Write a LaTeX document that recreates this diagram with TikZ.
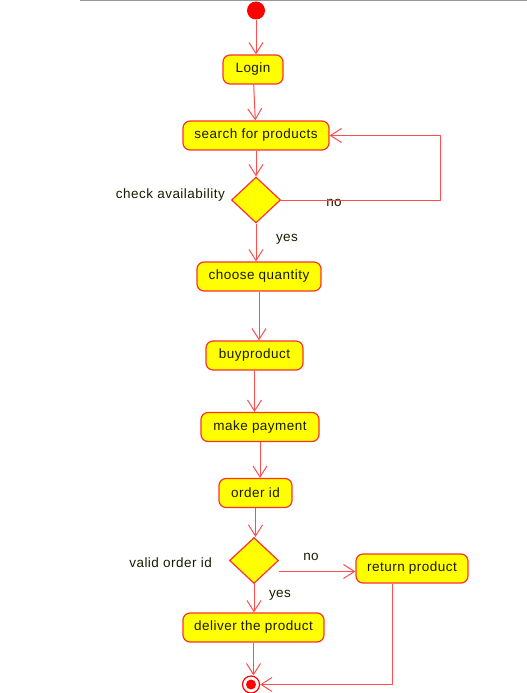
\documentclass[tikz,border=0pt]{standalone}
\usepackage{fontspec}
\setmainfont{Liberation Sans}[LetterSpace=3.5]
\usetikzlibrary{arrows.meta,shapes.geometric}
\definecolor{lred}{HTML}{FF4D4D}
\definecolor{bred}{HTML}{FF3030}
\definecolor{uyellow}{HTML}{FFFF00}
\definecolor{txt}{HTML}{1A1A00}
\begin{document}
\begin{tikzpicture}[x=1pt,y=-1pt,
 act/.style={draw=bred, line width=1.2pt, fill=uyellow, rounded corners=7pt, minimum height=29pt, inner xsep=0pt, font=\fontsize{13.5}{15}\selectfont, text=txt},
 dec/.style={draw=bred, line width=1.2pt, fill=uyellow, diamond, minimum width=49pt, minimum height=46pt, inner sep=0pt},
 flow/.style={draw=lred, line width=1pt, -{Straight Barb[length=11pt,width=14pt]}},
 lbl/.style={font=\fontsize{13.5}{15}\selectfont, text=txt, inner sep=1pt}
]
\useasboundingbox (0,0) rectangle (527,693);
\draw[gray!80, line width=1.5pt] (80,0.75) -- (527,0.75);

\node[circle, fill=red, minimum size=18pt, inner sep=0pt] (start) at (256,10.5) {};
\node[act, minimum width=60pt] (login) at (253,69.5) {Login};
\node[act, minimum width=146pt] (search) at (256,135.5) {search for products};
\node[dec] (d1) at (256,200) {};
\node[act, minimum width=124pt] (choose) at (259,276.5) {choose quantity};
\node[act, minimum width=97pt] (buy) at (254.5,355.5) {buyproduct};
\node[act, minimum width=118pt] (pay) at (260,427) {make payment};
\node[act, minimum width=73pt] (oid) at (255.5,493) {order id};
\node[dec] (d2) at (254,560.5) {};
\node[act, minimum width=112pt] (ret) at (412,568.5) {return product};
\node[act, minimum width=141pt] (del) at (253.5,627.5) {deliver the product};
\node[circle, draw=red, line width=1.2pt, minimum size=17pt, inner sep=0pt] (end) at (251,684.5) {};
\node[circle, fill=red, minimum size=10pt, inner sep=0pt] (endin) at (end.center) {};

\node[lbl, anchor=east] (lca) at (226,195) {check availability};
\node[lbl] (lno1) at (334,203) {no};
\node[lbl] (lyes1) at (287,239) {yes};
\node[lbl, anchor=east] (lvo) at (213,563) {valid order id};
\node[lbl] (lno2) at (311,557) {no};
\node[lbl] (lyes2) at (280,595) {yes};

\coordinate (loopc) at (440,200);
\coordinate (d2o) at (279,571.5);
\coordinate (rc) at (392,684.5);

\draw[flow] (start) -- (start |- login.north);
\draw[flow] (login) -- (search);
\draw[flow] (search) -- (d1);
\draw[flow] (d1.east) -- (d1.east -| loopc) |- (search.east);
\draw[flow] (d1) -- (d1 |- choose.north);
\draw[flow] (choose) -- (choose |- buy.north);
\draw[flow] (buy) -- (buy |- pay.north);
\draw[flow] (pay) -- (pay |- oid.north);
\draw[flow] (oid) -- (oid |- d2.north);
\draw[flow] (d2o) -- (ret.west |- d2o);
\draw[flow] (d2) -- (d2 |- del.north);
\draw[flow] (ret.south -| rc) |- (end.east);
\draw[flow] (del) -- (del |- end.north);
\end{tikzpicture}
\end{document}
